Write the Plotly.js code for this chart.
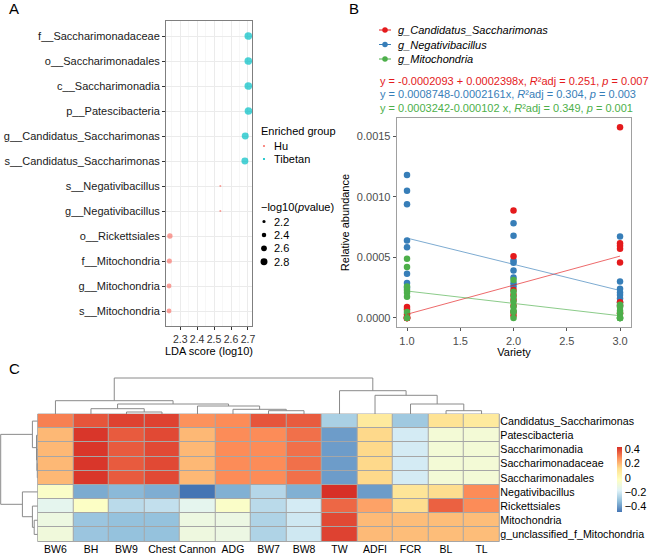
<!DOCTYPE html>
<html><head><meta charset="utf-8">
<script src="https://cdn.plot.ly/plotly-3.0.1.min.js"></script>
<style>html,body{margin:0;padding:0;background:#fff}</style>
</head><body>
<div id="chart" style="width:650px;height:556px"></div>
<script>
// ---------- Panel A data (LEfSe) ----------
const ldaTaxa = ["f__Saccharimonadaceae","o__Saccharimonadales","c__Saccharimonadia","p__Patescibacteria",
  "g__Candidatus_Saccharimonas","s__Candidatus_Saccharimonas","s__Negativibacillus","g__Negativibacillus",
  "o__Rickettsiales","f__Mitochondria","g__Mitochondria","s__Mitochondria"];
const ldaGroup = ["Tibetan","Tibetan","Tibetan","Tibetan","Tibetan","Tibetan","Hu","Hu","Hu","Hu","Hu","Hu"];
const ldaScore = [2.702,2.702,2.702,2.703,2.684,2.682,2.537,2.537,2.239,2.236,2.234,2.234];
const ldaNegLogP = [2.9,2.9,2.9,2.9,2.8,2.8,2.0,2.0,2.55,2.5,2.45,2.45];
const enrichedGroups = ["Hu","Tibetan"];
const sizeLegendValues = [2.2,2.4,2.6,2.8];

// ---------- Panel B data ----------
const bSeries = ["g_Candidatus_Saccharimonas","g_Negativibacillus","g_Mitochondria"];
const variety = [1,1,1,1,1,1,1,1, 2,2,2,2,2,2,2,2, 3,3,3,3,3,3,3,3];
const candY = [0.00009,0.00007,0.00003,0.00001,0,0,0,0,
               0.000887,0.00051,0.00023,0.00019,0.00015,0.0001,0.00005,0.00002,
               0.001573,0.000617,0.000595,0.00057,0.000457,0.00013,0.0001,0.00004];
const negY  = [0.00118,0.00105,0.000937,0.000639,0.000584,0.000364,0.000289,0.00025,
               0.000782,0.000678,0.000474,0.000455,0.000391,0.000333,0.000287,0.000259,
               0.000672,0.0003,0.00024,0.00021,0.00019,0.00016,0.00013,0.0001];
const mitoY = [0.000488,0.000421,0.000259,0.000231,0.000207,0.000176,0.00005,0,
               0.000314,0.000217,0.000176,0.000135,0.000093,0.00006,0.00005,0,
               0.00011,0.00009,0.00006,0.00004,0,0,0,0];
const regIntercept = [-0.0002093, 0.0008748, 0.0003242];
const regSlope     = [0.0002398, -0.0002161, -0.000102];
const regLabels = [
  "y = -0.0002093 + 0.0002398x, <i>R</i>²adj = 0.251, <i>p</i> = 0.007",
  "y = 0.0008748-0.0002161x, <i>R</i>²adj = 0.304, <i>p</i> = 0.003",
  "y = 0.0003242-0.000102 x, <i>R</i>²adj = 0.349, <i>p</i> = 0.001"];

// ---------- Panel C data (correlation heatmap) ----------
const heatCols = ["BW6","BH","BW9","Chest","Cannon","ADG","BW7","BW8","TW","ADFI","FCR","BL","TL"];
const heatRows = ["Candidatus_Saccharimonas","Patescibacteria","Saccharimonadia","Saccharimonadaceae",
  "Saccharimonadales","Negativibacillus","Rickettsiales","Mitochondria","g_unclassified_f_Mitochondria"];
const heatZ = [
  [0.31,0.38,0.41,0.41,0.28,0.29,0.38,0.37,-0.27,0.09,-0.29,0.12,0.09],
  [0.21,0.43,0.37,0.40,0.21,0.29,0.29,0.335,-0.39,0.15,-0.19,-0.075,-0.075],
  [0.21,0.43,0.37,0.40,0.21,0.29,0.29,0.335,-0.39,0.15,-0.19,-0.075,-0.075],
  [0.21,0.43,0.37,0.40,0.21,0.29,0.29,0.335,-0.39,0.15,-0.19,-0.075,-0.075],
  [0.21,0.43,0.37,0.40,0.21,0.29,0.29,0.335,-0.39,0.15,-0.19,-0.075,-0.075],
  [-0.04,-0.36,-0.33,-0.355,-0.47,-0.35,-0.25,-0.35,0.44,-0.39,0.11,0.14,0.29],
  [-0.14,-0.03,-0.24,-0.225,-0.14,-0.04,-0.24,-0.19,0.35,0.25,0.14,0.36,0.29],
  [-0.105,-0.30,-0.31,-0.31,-0.105,-0.11,-0.26,-0.20,0.40,0.206,0.20,0.20,0.20],
  [-0.09,-0.30,-0.31,-0.31,-0.10,-0.11,-0.26,-0.20,0.41,0.206,0.20,0.20,0.20]];
// hclust-style merges: negative = leaf (display order, 1-based), positive = earlier merge
const colMerge = [[-3,-4,2],[-2,1,5.3],[-7,-8,3.3],[-6,3,4.7],[-5,4,8],[2,5,10],[-1,6,13.3],
                  [-12,-13,3.3],[-11,8,10],[-10,9,18.7],[-9,10,23.3],[7,11,36]];
const rowMerge = [[-4,-5,0.4],[-3,1,0.8],[-2,2,1.2],[-1,3,5.3],[-8,-9,3.5],[-7,5,5.3],[-6,6,15.3],[4,7,37]];

// ---------- helpers ----------
const W = 650, H = 556;
const px = x => x / W, py = y => 1 - y / H;
const FONT = "Liberation Sans, Arial, sans-serif";
const groupColor = {Hu: "#F8766D", Tibetan: "#00BFC4"};
const seriesColor = ["#E41A1C", "#377EB8", "#4DAF4A"];
const lineColor = ["rgba(228,26,28,0.65)", "rgba(55,126,184,0.65)", "rgba(77,175,74,0.65)"];
const sizeOf = v => 2 + (v - 2.0) * 6.2;
const HM_TOP = 414, HM_BOT = 541.5;

function dendro(merge) {
  const pos = [], ht = [], xs = [], ys = [];
  const get = id => id < 0 ? {p: -id - 1, h: 0} : {p: pos[id - 1], h: ht[id - 1]};
  merge.forEach(([a, b, h], i) => {
    const A = get(a), B = get(b);
    xs.push(A.p, A.p, B.p, B.p, null);
    ys.push(A.h, h, h, B.h, null);
    pos[i] = (A.p + B.p) / 2; ht[i] = h;
  });
  return {p: xs, h: ys};
}

const traces = [];
// Panel A
enrichedGroups.forEach(g => {
  const idx = ldaGroup.map((v, i) => v === g ? i : -1).filter(i => i >= 0);
  traces.push({type: "scatter", mode: "markers", xaxis: "x", yaxis: "y", showlegend: false, hoverinfo: "skip",
    x: idx.map(i => ldaScore[i]), y: idx.map(i => ldaTaxa[i]),
    marker: {color: groupColor[g], size: idx.map(i => sizeOf(ldaNegLogP[i])), line: {width: 0}}});
});
// Panel B points
const bY = [candY, negY, mitoY];
[1, 0, 2].forEach(s => {
  traces.push({type: "scatter", mode: "markers", xaxis: "x2", yaxis: "y2", showlegend: false, hoverinfo: "skip",
    x: variety, y: bY[s], marker: {color: seriesColor[s], size: 6.5, line: {width: 0}}});
});
// Panel B regression lines
bSeries.forEach((s, i) => {
  const xr = [Math.min(...variety), Math.max(...variety)];
  traces.push({type: "scatter", mode: "lines", xaxis: "x2", yaxis: "y2", showlegend: false, hoverinfo: "skip",
    x: xr, y: xr.map(x => regIntercept[i] + regSlope[i] * x), line: {color: lineColor[i], width: 1}});
});
// Panel C heatmap
traces.push({type: "heatmap", xaxis: "x3", yaxis: "y3", hoverinfo: "skip",
  z: heatZ, x: heatCols.map((_, i) => i), y: heatRows.map((_, i) => i), xgap: 1, ygap: 1,
  zmin: -0.47, zmax: 0.44,
  colorscale: [[0, "#4575B4"], [1/6, "#91BFDB"], [2/6, "#E0F3F8"], [3/6, "#FFFFBF"], [4/6, "#FEE090"], [5/6, "#FC8D59"], [1, "#D73027"]],
  colorbar: {x: px(617), xanchor: "left", y: py(479), yanchor: "middle", len: 65 / H, lenmode: "fraction",
    thickness: 5, outlinewidth: 0, ticks: "", tickvals: [-0.4, -0.2, 0, 0.2, 0.4],
    ticktext: ["−0.4", "−0.2", "0", "0.2", "0.4"], tickfont: {size: 11, color: "#000"}, xpad: 0, ypad: 0}});
// Dendrograms
const cd = dendro(colMerge);
traces.push({type: "scatter", mode: "lines", xaxis: "x4", yaxis: "y4", showlegend: false, hoverinfo: "skip",
  x: cd.p, y: cd.h, line: {color: "#8A8A8A", width: 1}});
const rd = dendro(rowMerge);
traces.push({type: "scatter", mode: "lines", xaxis: "x5", yaxis: "y5", showlegend: false, hoverinfo: "skip",
  x: rd.h, y: rd.p, line: {color: "#8A8A8A", width: 1}});

// ---------- annotations & legend keys ----------
const ann = [], shapes = [];
const txt = (text, x, y, opt = {}) => ann.push(Object.assign({text, x: px(x), y: py(y), xref: "paper", yref: "paper",
  showarrow: false, xanchor: "left", yanchor: "middle", font: {size: 11, color: "#000"}}, opt));
const dot = (x, y, d, color) => shapes.push({type: "circle", xref: "paper", yref: "paper", xsizemode: "pixel", ysizemode: "pixel",
  xanchor: px(x), yanchor: py(y), x0: -d / 2, x1: d / 2, y0: -d / 2, y1: d / 2, fillcolor: color, line: {width: 0}});

txt("A", 7, 8, {font: {size: 15, color: "#000"}});
txt("B", 347, 8, {font: {size: 15, color: "#000"}});
txt("C", 7, 368, {font: {size: 15, color: "#000"}});

// A legends
txt("Enriched group", 259, 131);
enrichedGroups.forEach((g, i) => { dot(264, 146 + i * 13, 2.2, groupColor[g]); txt(g, 272, 146 + i * 13); });
txt("−log10(<i>p</i>value)", 259, 207);
sizeLegendValues.forEach((v, i) => { dot(264, 221.5 + i * 13.4, sizeOf(v), "#000"); txt(String(v.toFixed(1)), 272, 221.5 + i * 13.4); });

// B legend
bSeries.forEach((s, i) => {
  const y = 30 + i * 14.5;
  shapes.push({type: "line", xref: "paper", yref: "paper", x0: px(379), x1: px(391), y0: py(y), y1: py(y), line: {color: seriesColor[i], width: 1}});
  dot(385, y, 5.5, seriesColor[i]);
  txt("<i>" + s + "</i>", 396, y);
});
regLabels.forEach((t, i) => txt(t, 378, 80.5 + i * 13.5, {font: {size: 11, color: seriesColor[i]}}));

// heatmap cell border background
shapes.push({type: "rect", xref: "x3 domain", yref: "y3 domain", x0: 0, x1: 1, y0: 0, y1: 1,
  fillcolor: "#A6A6A6", line: {color: "#A6A6A6", width: 1}, layer: "below"});

const axCommon = {automargin: false, zeroline: false};
const layout = {
  width: W, height: H, margin: {l: 0, r: 0, t: 0, b: 0}, showlegend: false,
  paper_bgcolor: "#fff", plot_bgcolor: "#fff", font: {family: FONT, size: 11, color: "#000"},
  hovermode: false,
  xaxis: Object.assign({}, axCommon, {domain: [px(166), px(252)], range: [2.216, 2.724], tick0: 2.3, dtick: 0.1,
    ticks: "outside", ticklen: 3, tickcolor: "#333", tickfont: {size: 10.5, color: "#333"}, tickangle: 0,
    showgrid: true, gridcolor: "#EBEBEB", gridwidth: 1, minor: {dtick: 0.05, tick0: 2.25, showgrid: true, gridcolor: "#F2F2F2", gridwidth: 0.6},
    showline: true, mirror: true, linecolor: "#7F7F7F", linewidth: 1,
    title: {text: "LDA score (log10)", font: {size: 11, color: "#000"}, standoff: 2}, anchor: "y"}),
  yaxis: Object.assign({}, axCommon, {domain: [py(326), py(21)], type: "category", categoryarray: ldaTaxa,
    range: [11.6, -0.6], ticks: "outside", ticklen: 3, tickcolor: "#333", tickfont: {size: 11, color: "#1A1A1A"},
    showgrid: true, gridcolor: "#EBEBEB", showline: true, mirror: true, linecolor: "#7F7F7F", linewidth: 1, anchor: "x"}),
  xaxis2: Object.assign({}, axCommon, {domain: [px(397), px(631)], range: [0.906, 3.103],
    tickvals: [1, 1.5, 2, 2.5, 3], tickformat: ".1f", ticks: "outside", ticklen: 3, tickcolor: "#555",
    tickfont: {size: 11, color: "#4D4D4D"}, showgrid: false, showline: true, mirror: true, linecolor: "#A0A0A0", linewidth: 1.3,
    title: {text: "Variety", font: {size: 11, color: "#000"}, standoff: 1}, anchor: "y2"}),
  yaxis2: Object.assign({}, axCommon, {domain: [py(327), py(118)], range: [-0.0000744, 0.001649],
    tickvals: [0, 0.0005, 0.001, 0.0015], tickformat: ".4f", ticks: "outside", ticklen: 3, tickcolor: "#555",
    tickfont: {size: 11, color: "#4D4D4D"}, showgrid: false, showline: true, mirror: true, linecolor: "#A0A0A0", linewidth: 1.3,
    title: {text: "Relative abundance", font: {size: 11, color: "#000"}, standoff: 5}, anchor: "x2"}),
  xaxis3: Object.assign({}, axCommon, {domain: [px(37.7), px(499.3)], range: [-0.5, 12.5],
    tickvals: heatCols.map((_, i) => i), ticktext: heatCols, ticks: "", showgrid: false, showline: false, tickangle: 0,
    tickfont: {size: 10.5, color: "#000"}, anchor: "y3"}),
  yaxis3: Object.assign({}, axCommon, {domain: [py(HM_BOT), py(HM_TOP)], range: [8.5, -0.5], side: "right",
    tickvals: heatRows.map((_, i) => i), ticktext: heatRows, ticks: "", showgrid: false, showline: false,
    tickfont: {size: 10.7, color: "#000"}, anchor: "x3"}),
  xaxis4: Object.assign({}, axCommon, {domain: [px(37.7), px(499.3)], range: [-0.5, 12.5], visible: false, anchor: "y4"}),
  yaxis4: Object.assign({}, axCommon, {domain: [py(HM_TOP), py(HM_TOP - 40)], range: [0, 40], visible: false, anchor: "x4"}),
  xaxis5: Object.assign({}, axCommon, {domain: [0, px(37.7)], range: [37.7, 0], visible: false, anchor: "y5"}),
  yaxis5: Object.assign({}, axCommon, {domain: [py(HM_BOT), py(HM_TOP)], range: [8.5, -0.5], visible: false, anchor: "x5"}),
  annotations: ann, shapes: shapes
};
Plotly.newPlot("chart", traces, layout, {displayModeBar: false, staticPlot: true});
</script>
</body></html>
